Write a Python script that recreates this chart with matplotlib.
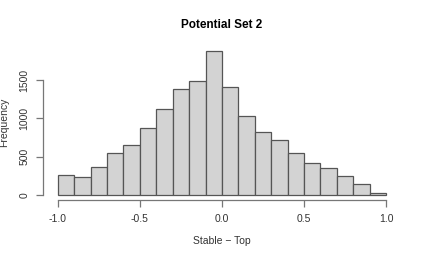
import matplotlib.pyplot as plt
import numpy as np

plt.rcParams['font.family'] = ['Liberation Sans', 'DejaVu Sans']

# Histogram bins (width 0.1 from -1 to 1) and counts
bin_edges = np.round(np.arange(-1.0, 1.0001, 0.1), 2)
counts = [256, 230, 361, 543, 648, 870, 1126, 1383, 1491, 1883,
          1413, 1026, 822, 713, 548, 422, 357, 252, 143, 22]
xticks = [-1.0, -0.5, 0.0, 0.5, 1.0]
yticks = [0, 500, 1000, 1500]

fig = plt.figure(figsize=(4.22, 2.57), dpi=100)
ax = fig.add_axes([0.102, 0.222, 0.846, 0.603])

ax.bar(bin_edges[:-1], counts, width=np.diff(bin_edges), align='edge',
       color='#d3d3d3', edgecolor='#555555', linewidth=0.9)

ax.set_xlim(-1.09, 1.085)
ax.set_ylim(-65, 1956)

# R-style axes
for s in ['top', 'right']:
    ax.spines[s].set_visible(False)
ax.spines['left'].set_bounds(0, 1500)
ax.spines['bottom'].set_bounds(-1, 1)
for s in ['left', 'bottom']:
    ax.spines[s].set_color('#777777')
    ax.spines[s].set_linewidth(0.9)

ax.set_xticks(xticks)
ax.set_xticklabels(['%.1f' % v for v in xticks])
ax.set_yticks(yticks)
ax.set_yticklabels([str(v) for v in yticks], rotation=90, va='center')
ax.tick_params(axis='both', labelsize=7.5, colors='#777777', labelcolor='#333333',
               length=5, width=0.9, pad=5)

ax.set_title('Potential Set 2', fontsize=8.5, fontweight='bold', pad=12)
ax.set_xlabel('Stable \u2212 Top', fontsize=7.5, color='#333333', labelpad=9)
ax.set_ylabel('Frequency', fontsize=7.5, color='#333333', labelpad=7)

fig.savefig('out.png', dpi=100)
